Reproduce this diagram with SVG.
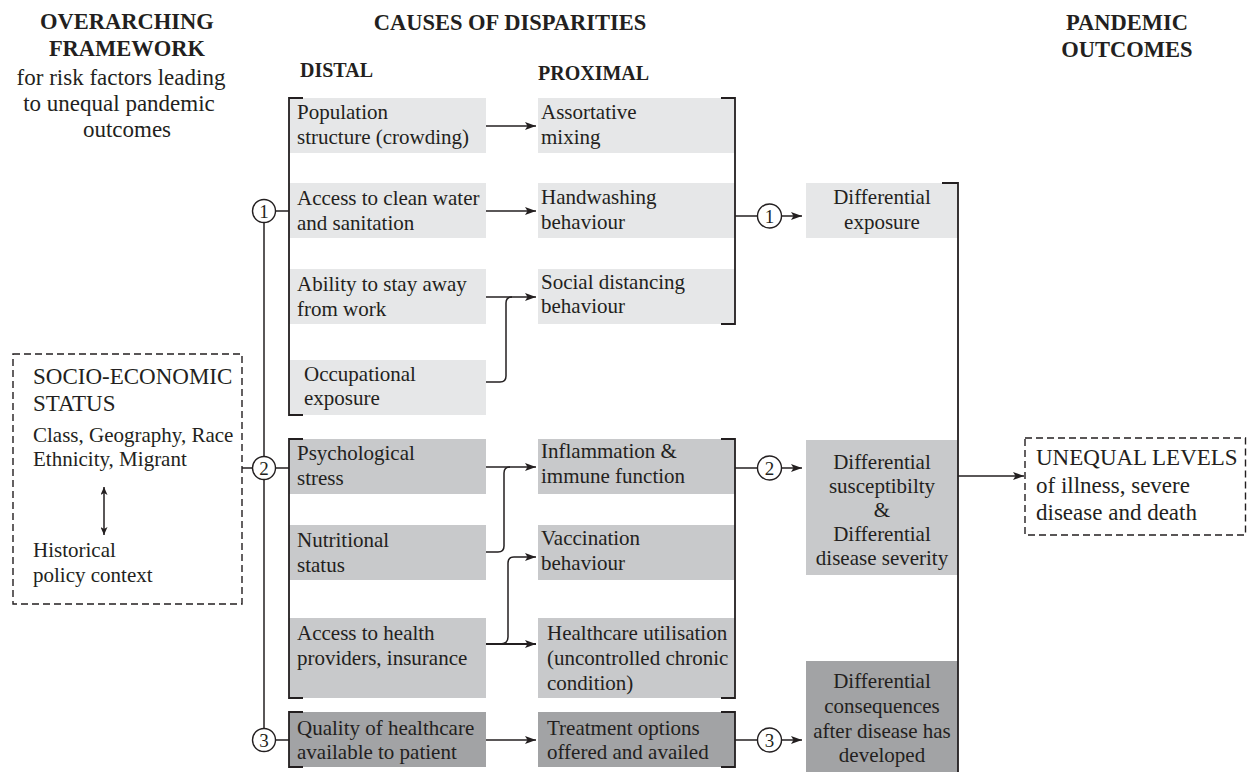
<svg xmlns="http://www.w3.org/2000/svg" width="1247" height="772" viewBox="0 0 1247 772">
<defs>
<style>
text{font-family:"Liberation Serif","Times New Roman",serif;fill:#231f20}
.t{font-size:21px}
.big{font-size:23px}
.h{font-size:22.5px;font-weight:bold}
.sh{font-size:20px;font-weight:bold}
.c{text-anchor:middle}
.g1{fill:#e6e7e8}
.g2{fill:#c8c9cb}
.g3{fill:#a2a3a5}
.ln{fill:none;stroke:#231f20;stroke-width:1.5}
.br{fill:none;stroke:#231f20;stroke-width:1.8}
.dash{fill:none;stroke:#231f20;stroke-width:1.4;stroke-dasharray:7 4}
.cir{fill:#fff;stroke:#231f20;stroke-width:1.4}
.num{font-size:19px;text-anchor:middle}
</style>
<marker id="ah" viewBox="0 0 11 8" refX="11" refY="4" markerWidth="11" markerHeight="8" markerUnits="userSpaceOnUse" orient="auto"><path d="M0,0 L11,4 L0,8 L2.5,4 z" fill="#231f20"/></marker>
<marker id="ah2" viewBox="0 0 8 7" refX="8" refY="3.5" markerWidth="8" markerHeight="7" markerUnits="userSpaceOnUse" orient="auto-start-reverse"><path d="M0,0 L8,3.5 L0,7 L2,3.5 z" fill="#231f20"/></marker>
</defs>
<rect width="1247" height="772" fill="#fff"/>

<!-- Headings -->
<g id="headings">
<text class="h c" x="127" y="29">OVERARCHING</text>
<text class="h c" x="127" y="56">FRAMEWORK</text>
<text class="big c" x="121" y="85">for risk factors leading</text>
<text class="big c" x="119" y="111">to unequal pandemic</text>
<text class="big c" x="127" y="137">outcomes</text>
<text class="h c" x="510" y="30">CAUSES OF DISPARITIES</text>
<text class="sh" x="300" y="77">DISTAL</text>
<text class="sh" x="538" y="80">PROXIMAL</text>
<text class="h c" x="1127" y="30">PANDEMIC</text>
<text class="h c" x="1127" y="57">OUTCOMES</text>
</g>

<!-- Socio-economic status node -->
<g id="ses">
<rect class="dash" x="13" y="354" width="229" height="250"/>
<text class="big" x="33" y="384">SOCIO-ECONOMIC</text>
<text class="big" x="33" y="411">STATUS</text>
<text class="t" x="33" y="442">Class, Geography, Race</text>
<text class="t" x="33" y="466">Ethnicity, Migrant</text>
<line class="ln" x1="104" y1="487" x2="104" y2="535" marker-start="url(#ah2)" marker-end="url(#ah2)"/>
<text class="t" x="33" y="557">Historical</text>
<text class="t" x="33" y="582">policy context</text>
</g>

<!-- Distal nodes -->
<g id="population-structure"><rect class="g1" x="289" y="98" width="197" height="55"/><text class="t" x="297" y="119">Population</text><text class="t" x="297" y="144">structure (crowding)</text></g>
<g id="clean-water"><rect class="g1" x="289" y="183" width="197" height="55"/><text class="t" x="297" y="205">Access to clean water</text><text class="t" x="297" y="230">and sanitation</text></g>
<g id="stay-away"><rect class="g1" x="289" y="269" width="197" height="55"/><text class="t" x="297" y="291">Ability to stay away</text><text class="t" x="297" y="316">from work</text></g>
<g id="occupational"><rect class="g1" x="289" y="360" width="197" height="55"/><text class="t" x="304" y="381">Occupational</text><text class="t" x="304" y="405">exposure</text></g>
<g id="psych-stress"><rect class="g2" x="289" y="439" width="197" height="55"/><text class="t" x="297" y="460">Psychological</text><text class="t" x="297" y="485">stress</text></g>
<g id="nutritional"><rect class="g2" x="289" y="525" width="197" height="55"/><text class="t" x="297" y="547">Nutritional</text><text class="t" x="297" y="572">status</text></g>
<g id="access-health"><rect class="g2" x="289" y="618" width="197" height="80"/><text class="t" x="297" y="640">Access to health</text><text class="t" x="297" y="665">providers, insurance</text></g>
<g id="quality-healthcare"><rect class="g3" x="289" y="712" width="197" height="55"/><text class="t" x="297" y="735">Quality of healthcare</text><text class="t" x="297" y="759">available to patient</text></g>

<!-- Proximal nodes -->
<g id="assortative"><rect class="g1" x="538" y="98" width="197" height="55"/><text class="t" x="541" y="119">Assortative</text><text class="t" x="541" y="144">mixing</text></g>
<g id="handwashing"><rect class="g1" x="538" y="183" width="197" height="55"/><text class="t" x="541" y="204">Handwashing</text><text class="t" x="541" y="229">behaviour</text></g>
<g id="social-distancing"><rect class="g1" x="538" y="269" width="197" height="55"/><text class="t" x="541" y="289">Social distancing</text><text class="t" x="541" y="313">behaviour</text></g>
<g id="inflammation"><rect class="g2" x="538" y="439" width="197" height="55"/><text class="t" x="541" y="458">Inflammation &amp;</text><text class="t" x="541" y="483">immune function</text></g>
<g id="vaccination"><rect class="g2" x="538" y="525" width="197" height="55"/><text class="t" x="541" y="545">Vaccination</text><text class="t" x="541" y="570">behaviour</text></g>
<g id="healthcare-utilisation"><rect class="g2" x="538" y="618" width="197" height="80"/><text class="t" x="547" y="640">Healthcare utilisation</text><text class="t" x="547" y="665">(uncontrolled chronic</text><text class="t" x="547" y="690">condition)</text></g>
<g id="treatment-options"><rect class="g3" x="538" y="712" width="197" height="55"/><text class="t" x="547" y="735">Treatment options</text><text class="t" x="547" y="759">offered and availed</text></g>

<!-- Outcome nodes -->
<g id="differential-exposure"><rect class="g1" x="806" y="183" width="152" height="55"/><text class="t c" x="882" y="204">Differential</text><text class="t c" x="882" y="229">exposure</text></g>
<g id="differential-susceptibility"><rect class="g2" x="806" y="440" width="152" height="135"/><text class="t c" x="882" y="469">Differential</text><text class="t c" x="882" y="493">susceptibilty</text><text class="t c" x="882" y="517">&amp;</text><text class="t c" x="882" y="541">Differential</text><text class="t c" x="882" y="565">disease severity</text></g>
<g id="differential-consequences"><rect class="g3" x="806" y="661" width="152" height="111"/><text class="t c" x="882" y="688">Differential</text><text class="t c" x="882" y="713">consequences</text><text class="t c" x="882" y="738">after disease has</text><text class="t c" x="882" y="762">developed</text></g>

<g id="unequal-levels">
<rect class="dash" x="1025" y="438" width="220.5" height="97"/>
<text class="big" x="1036" y="465">UNEQUAL LEVELS</text>
<text class="big" x="1036" y="493">of illness, severe</text>
<text class="big" x="1036" y="520">disease and death</text>
</g>

<!-- Connectors -->
<g id="connectors">
<!-- left spine -->
<line class="ln" x1="264" y1="223" x2="264" y2="728"/>
<line class="ln" x1="242" y1="468" x2="252" y2="468"/>
<line class="ln" x1="276" y1="211" x2="289" y2="211"/>
<line class="ln" x1="276" y1="468" x2="289" y2="468"/>
<line class="ln" x1="276" y1="740" x2="289" y2="740"/>
<!-- distal brackets -->
<path class="br" d="M303,98 H289 V415 H303"/>
<path class="br" d="M303,439 H289 V698 H303"/>
<path class="br" d="M303,712 H289 V767 H303"/>
<!-- proximal brackets -->
<path class="br" d="M721,98 H735 V324 H721"/>
<path class="br" d="M721,439 H735 V698 H721"/>
<path class="br" d="M721,712 H735 V767 H721"/>
<!-- outcome bracket -->
<path class="br" d="M942,183 H958 V772"/>
<!-- distal to proximal arrows -->
<line class="ln" x1="486" y1="126" x2="536" y2="126" marker-end="url(#ah)"/>
<line class="ln" x1="486" y1="211" x2="536" y2="211" marker-end="url(#ah)"/>
<line class="ln" x1="486" y1="297" x2="536" y2="297" marker-end="url(#ah)"/>
<path class="ln" d="M486,382 H500 Q506,382 506,376 V303 Q506,297 512,297"/>
<line class="ln" x1="486" y1="467" x2="536" y2="467" marker-end="url(#ah)"/>
<path class="ln" d="M486,552 H498 Q504,552 504,546 V473 Q504,467 510,467"/>
<line class="ln" x1="486" y1="644" x2="536" y2="644" marker-end="url(#ah)" style="stroke-width:2"/>
<path class="ln" d="M500,644 Q508,644 508,637 V563 Q508,557 514,557 H536" marker-end="url(#ah)"/>
<line class="ln" x1="486" y1="740" x2="536" y2="740" marker-end="url(#ah)"/>
<!-- proximal to outcome -->
<line class="ln" x1="735" y1="216" x2="757.5" y2="216"/>
<line class="ln" x1="781.5" y1="216" x2="802" y2="216" marker-end="url(#ah)"/>
<line class="ln" x1="735" y1="468" x2="757.5" y2="468"/>
<line class="ln" x1="781.5" y1="468" x2="802" y2="468" marker-end="url(#ah)"/>
<line class="ln" x1="735" y1="740" x2="757.5" y2="740"/>
<line class="ln" x1="781.5" y1="740" x2="802" y2="740" marker-end="url(#ah)"/>
<!-- outcome to unequal -->
<line class="ln" x1="958" y1="476" x2="1024" y2="476" marker-end="url(#ah)"/>
</g>

<!-- numbered junctions -->
<g id="junction-1-left"><circle class="cir" cx="264" cy="211" r="11.5"/><text class="num" x="264" y="218">1</text></g>
<g id="junction-2-left"><circle class="cir" cx="264" cy="468" r="11.5"/><text class="num" x="264" y="475">2</text></g>
<g id="junction-3-left"><circle class="cir" cx="264" cy="740" r="11.5"/><text class="num" x="264" y="747">3</text></g>
<g id="junction-1-right"><circle class="cir" cx="769.5" cy="216" r="12"/><text class="num" x="769.5" y="223">1</text></g>
<g id="junction-2-right"><circle class="cir" cx="769.5" cy="468" r="12"/><text class="num" x="769.5" y="475">2</text></g>
<g id="junction-3-right"><circle class="cir" cx="769.5" cy="740" r="12"/><text class="num" x="769.5" y="747">3</text></g>
</svg>
